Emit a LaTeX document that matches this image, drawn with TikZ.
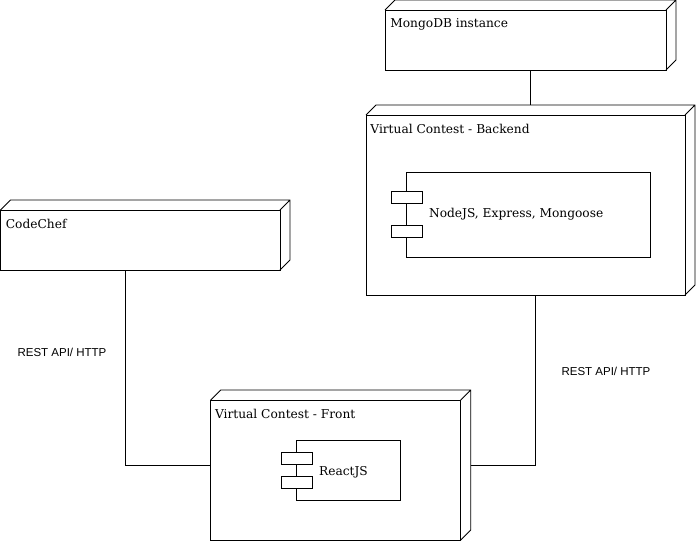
\documentclass[tikz,border=0pt]{standalone}
\usepackage{fontspec}
\setmainfont{DejaVu Serif}
\newfontfamily\labelfont{Liberation Sans}
\usetikzlibrary{calc}
\begin{document}
\begin{tikzpicture}[x=1pt,y=-1pt,line width=0.8pt,
  every node/.style={font=\fontsize{12.2}{14}\selectfont},
  box/.style={draw,anchor=north west,inner sep=0pt,outer sep=0pt},
  comp/.style={draw,anchor=north west,inner sep=0pt,outer sep=0pt},
  port/.style={draw,fill=white,inner sep=0pt,outer sep=0pt,minimum width=31.6pt,minimum height=11.7pt},
  title/.style={anchor=north west,inner sep=2pt},
  lbl/.style={font=\labelfont\fontsize{11.5}{13}\selectfont}]
\useasboundingbox (0,0) rectangle (696,541);
% nodes (front faces)
\node[box,minimum width=281pt,minimum height=60pt] (mongo) at (385,10) {};
\node[box,minimum width=319pt,minimum height=180pt] (back) at (366,115) {};
\node[box,minimum width=279.5pt,minimum height=60pt] (chef) at (0.5,210) {};
\node[box,minimum width=250pt,minimum height=140pt] (front) at (210.7,400) {};
% depth of the nodes
\foreach \n in {mongo,back,chef,front}
  \draw (\n.north west) -- ++(10,-10) -| ([shift={(10,-10)}]\n.south east) -- (\n.south east)
        (\n.north east) -- ++(10,-10);
% node titles
\node[title] (mongot) at ([shift={(3,6.5)}]mongo.north west) {MongoDB instance};
\node[title] (backt) at ([shift={(2,6.5)}]back.north west) {Virtual Contest - Backend};
\node[title] (cheft) at ([shift={(3,6.5)}]chef.north west) {CodeChef};
\node[title] (frontt) at ([shift={(2,6.5)}]front.north west) {Virtual Contest - Front};
% components
\node[comp,minimum width=243.3pt,minimum height=85pt] (nodejs) at (406.7,172) {};
\node[comp,minimum width=104pt,minimum height=59.3pt] (react) at (296.7,440.7) {};
\foreach \c in {nodejs,react} {
  \node[port] (\c p1) at ($(\c.north west)!0.3!(\c.south west)$) {};
  \node[port] (\c p2) at ($(\c.north west)!0.7!(\c.south west)$) {};
}
\node[anchor=west,inner sep=2pt] (nodejst) at ([xshift=20pt]nodejs.west) {NodeJS, Express, Mongoose};
\node[anchor=west,inner sep=2pt] (reactt) at ([xshift=20pt,yshift=-2pt]react.west) {ReactJS};
% connectors
\draw ([xshift=5pt]mongo.south) -- ([xshift=5pt,yshift=10pt]back.north);
\draw ([xshift=-15pt]chef.south) |- ([yshift=5pt]front.west);
\draw ([shift={(10pt,5pt)}]front.east) -| ([xshift=10pt]back.south);
\node[lbl] (restl) at (62,352) {REST API/ HTTP};
\node[lbl] (restr) at (606,371.5) {REST API/ HTTP};
\end{tikzpicture}
\end{document}
